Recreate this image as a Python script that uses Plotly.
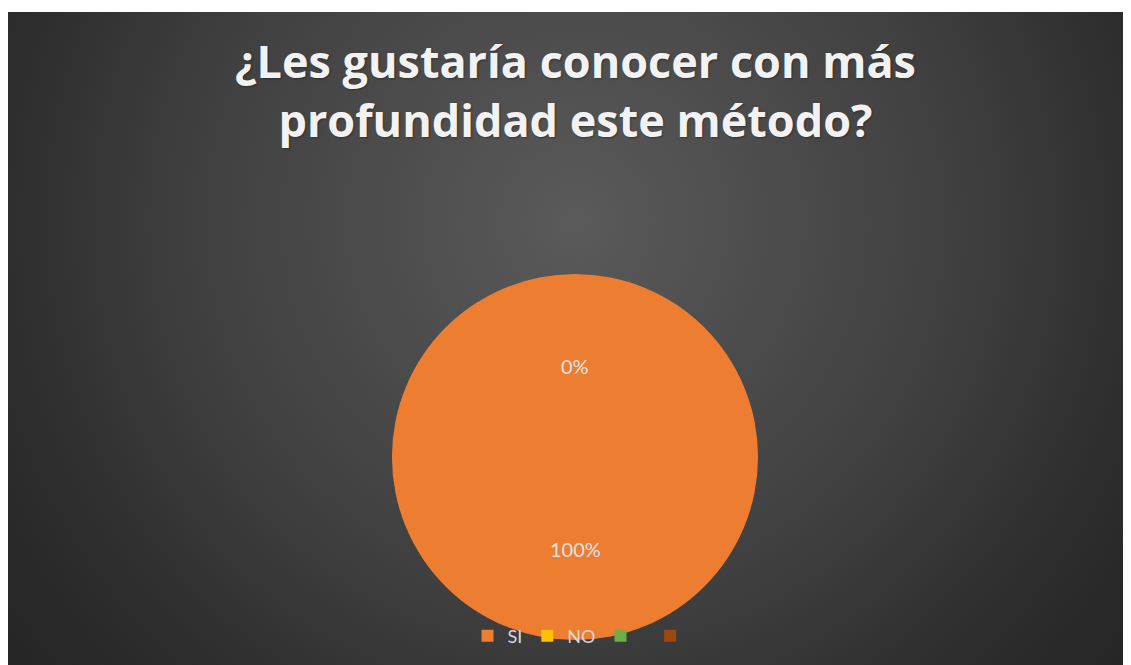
import base64
import math
import plotly.graph_objects as go

# ---- data ----
categories = ["SI", "NO", " ", "  "]
values = [100, 0, 0, 0]
slice_colors = ["#ED7D31", "#FFC000", "#70AD47", "#9E480E"]
labeled = [True, True, False, False]
title_text = "¿Les gustaría conocer con más<br>profundidad este método?"

W, H = 1131, 665
OFF = 8  # page body margin offsets the figure

# radial gradient background (chart area starts at page x=8, y=12)
bg_w, bg_h = 1134, 661
svg = f'''<svg xmlns="http://www.w3.org/2000/svg" width="{bg_w}" height="{bg_h}" viewBox="0 0 {bg_w} {bg_h}">
<defs><radialGradient id="g" gradientUnits="userSpaceOnUse" cx="567" cy="210" r="700">
<stop offset="0" stop-color="#5a5a5a"/>
<stop offset="0.54" stop-color="#404040"/>
<stop offset="0.81" stop-color="#2e2e2e"/>
<stop offset="1" stop-color="#262626"/>
</radialGradient></defs>
<rect width="{bg_w}" height="{bg_h}" fill="url(#g)"/></svg>'''
bg_src = "data:image/svg+xml;base64," + base64.b64encode(svg.encode()).decode()


def fx(px):
    return (px - OFF) / W


def fy(py):
    return 1 - (py - OFF) / H


# pie geometry (page pixel positions -> paper coords, margins 0)
px0, px1 = fx(392), fx(758)
py0, py1 = fy(640), fy(274)
cx, cy = (px0 + px1) / 2, (py0 + py1) / 2
r_px = (758 - 392) / 2

fig = go.Figure()
fig.add_trace(go.Pie(
    labels=categories,
    values=values,
    sort=False,
    direction="clockwise",
    rotation=0,
    textinfo="none",
    hoverinfo="label+percent",
    marker=dict(colors=slice_colors, line=dict(width=0)),
    domain=dict(x=[px0, px1], y=[py0, py1]),
    showlegend=True,
))

# data labels at half radius along each slice's mid-angle
total = sum(values)
cum = 0.0
annotations = []
for cat, v, show in zip(categories, values, labeled):
    start = cum
    cum += v
    if not show:
        continue
    mid = (start + cum) / 2 / total * 2 * math.pi
    lx = cx + 0.5 * r_px * math.sin(mid) / W
    ly = cy + 0.5 * r_px * math.cos(mid) / H
    annotations.append(dict(
        x=lx, y=ly, xref="paper", yref="paper",
        text=f"{round(v / total * 100)}%", showarrow=False,
        xanchor="center", yanchor="middle",
        font=dict(family="Lato", size=20, color="#e3e3e3"),
    ))

# title as annotation for exact placement
annotations.append(dict(
    x=fx(575), y=fy(90), xref="paper", yref="paper",
    text=title_text, showarrow=False, xanchor="center", yanchor="middle",
    align="center",
    font=dict(family="Open Sans", size=45, color="#f2f2f2", weight="bold",
              shadow="1px 1px 2px rgba(0,0,0,0.35)"),
))

fig.update_layout(
    width=W, height=H,
    margin=dict(l=0, r=0, t=0, b=0),
    paper_bgcolor="#ffffff",
    plot_bgcolor="rgba(0,0,0,0)",
    images=[dict(source=bg_src, xref="paper", yref="paper",
                 x=fx(8), y=fy(12), sizex=bg_w / W, sizey=bg_h / H,
                 xanchor="left", yanchor="top", sizing="stretch", layer="below")],
    legend=dict(orientation="h", x=fx(586), xanchor="center", y=fy(636), yanchor="middle",
                font=dict(family="Lato", size=18, color="#d9d9d9"),
                bgcolor="rgba(0,0,0,0)", itemwidth=30, tracegroupgap=0),
    annotations=annotations,
)

fig.write_html("out.html")
